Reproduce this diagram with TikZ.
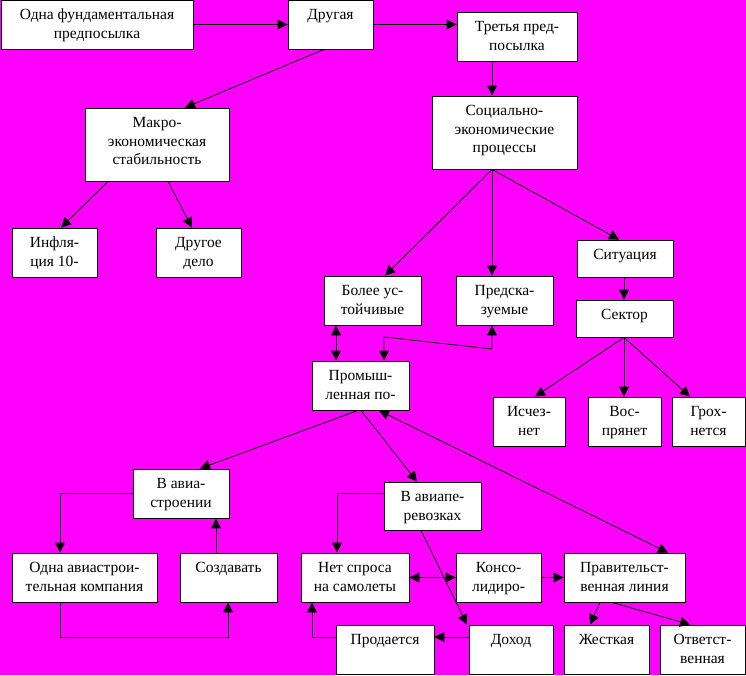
\documentclass[tikz,border=0pt]{standalone}
\usepackage{fontspec}
\setmainfont{Liberation Serif}
\usetikzlibrary{arrows.meta}

\definecolor{pagepink}{RGB}{255,0,255}
\newcommand{\boxlines}[3]{\parbox[c][#2pt][t]{#1pt}{\centering\rule{0pt}{19.5pt}#3}}

\begin{document}
\begin{tikzpicture}[x=1pt,y=-1pt,
    box/.style={draw,fill=white,line width=0.8pt,inner sep=0pt,font=\fontsize{15.5}{18.5}\selectfont},
    >={Triangle[length=10pt,width=10pt]},
    every path/.append style={line width=0.8pt}]
    \useasboundingbox (0,0) rectangle (746,675);
    \fill[pagepink] (0,0) rectangle (746,675);

    \node[box] (fund)   at (97,24.5)     {\boxlines{192}{49}{Одна фундаментальная\\предпосылка}};
    \node[box] (drug)   at (330.5,24.5)  {\boxlines{85}{49}{Другая}};
    \node[box] (tret)   at (517,36.5)    {\boxlines{120}{49}{Третья пред-\\посылка}};
    \node[box] (makro)  at (157,144.5)   {\boxlines{144}{73}{Макро-\\экономическая\\стабильность}};
    \node[box] (infl)   at (54.5,252.5)  {\boxlines{85}{49}{Инфля-\\ция 10-}};
    \node[box] (drugoe) at (198.5,252.5) {\boxlines{85}{49}{Другое\\дело}};
    \node[box] (soc)    at (504.5,132.5) {\boxlines{145}{73}{Социально-\\экономические\\процессы}};
    \node[box] (sit)    at (625,258.5)   {\boxlines{96}{37}{Ситуация}};
    \node[box] (bolee)  at (372.5,300.5) {\boxlines{97}{49}{Более ус-\\тойчивые}};
    \node[box] (predsk) at (504.5,300.5) {\boxlines{97}{49}{Предска-\\зуемые}};
    \node[box] (sektor) at (624.5,318.5) {\boxlines{97}{37}{Сектор}};
    \node[box] (prom)   at (360.5,385.5) {\boxlines{97}{49}{Промыш-\\ленная по-}};
    \node[box] (ischez) at (529,421.5)   {\boxlines{72}{49}{Исчез-\\нет}};
    \node[box] (vos)    at (624.5,421.5) {\boxlines{73}{49}{Вос-\\прянет}};
    \node[box] (groh)   at (708.5,421.5) {\boxlines{73}{49}{Грох-\\нется}};
    \node[box] (vavia)  at (181,493.5)   {\boxlines{96}{49}{В авиа-\\строении}};
    \node[box] (odnaav) at (84.5,577.5)  {\boxlines{145}{49}{Одна авиастрои-\\тельная компания}};
    \node[box] (sozd)   at (228.5,577.5) {\boxlines{97}{49}{Создавать}};
    \node[box] (vperev) at (432.5,506)   {\boxlines{97}{48}{В авиапе-\\ревозках}};
    \node[box] (net)    at (355,577.5)   {\boxlines{108}{49}{Нет спроса\\на самолеты}};
    \node[box] (konso)  at (498.5,577.5) {\boxlines{85}{49}{Консо-\\лидиро-}};
    \node[box] (prav)   at (624.5,577.5) {\boxlines{121}{49}{Правительст-\\венная линия}};
    \node[box] (prod)   at (385,649.5)   {\boxlines{98}{49}{Продается}};
    \node[box] (dohod)  at (511,649.5)   {\boxlines{84}{49}{Доход}};
    \node[box] (zhest)  at (606.5,649.5) {\boxlines{85}{49}{Жесткая}};
    \node[box] (otvet)  at (702.5,649.5) {\boxlines{85}{49}{Ответст-\\венная}};

    \draw[->] (fund) -- (drug);
    \draw[->] (drug.east) -- (drug.east -| tret.west);
    \draw[->] (324,0 |- drug.south) -- (185,0 |- makro.north);
    \draw[->] (492,0 |- tret.south) -- (492,0 |- soc.north);
    \draw[->] (108,0 |- makro.south) -- (61,0 |- infl.north);
    \draw[->] (168,0 |- makro.south) -- (192,0 |- drugoe.north);
    \draw[->] (492,0 |- soc.south) -- (385,0 |- bolee.north);
    \draw[->] (492,0 |- soc.south) -- (492,0 |- predsk.north);
    \draw[->] (492,0 |- soc.south) -- (619,0 |- sit.north);
    \draw[->] (624,0 |- sit.south) -- (624,0 |- sektor.north);
    \draw[<->] (336,0 |- bolee.south) -- (336,0 |- prom.north);
    \draw[<->] (384,0 |- prom.north) -- (384,337) -- (492,349) -- (492,0 |- predsk.south);
    \draw[->] (624,0 |- sektor.south) -- (535,0 |- ischez.north);
    \draw[->] (624,0 |- sektor.south) -- (624,0 |- vos.north);
    \draw[->] (624,0 |- sektor.south) -- (690,0 |- groh.north);
    \draw[->] (358,0 |- prom.south) -- (200,0 |- vavia.north);
    \draw[->] (361,0 |- prom.south) -- (417,0 |- vperev.north);
    \draw[<->] (379,0 |- prom.south) -- (668,0 |- prav.north);
    \draw[->] (vavia.west) -| (60,0 |- odnaav.north);
    \draw[->] (216,0 |- sozd.north) -- (216,0 |- vavia.south);
    \draw[->] (60,0 |- odnaav.south) -- (60,637) -| (228,0 |- sozd.south);
    \draw[->] (vperev.west |- 0,493) -| (337,0 |- net.north);
    \draw[<->] (net) -- (konso);
    \draw[->] (konso) -- (prav);
    \draw[->] (421,0 |- vperev.south) -- (467,0 |- dohod.north);
    \draw[->] (dohod.west |- 0,637) -- (prod.east |- 0,637);
    \draw[->] (prod.west |- 0,637) -| (312,0 |- net.south);
    \draw[->] (600,0 |- prav.south) -- (590,0 |- zhest.north);
    \draw[->] (612,0 |- prav.south) -- (690,0 |- otvet.north);
\end{tikzpicture}
\end{document}
